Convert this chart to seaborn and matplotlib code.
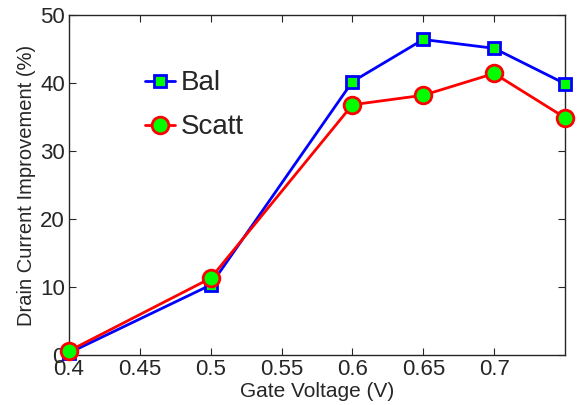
import numpy as np
import pandas as pd
import matplotlib
matplotlib.use("Agg")
import matplotlib.pyplot as plt
import seaborn as sns

gate_voltage = [0.4, 0.5, 0.6, 0.65, 0.7, 0.75]
bal = [0.3, 10.3, 40.2, 46.4, 45.1, 39.9]
scatt = [0.6, 11.3, 36.8, 38.2, 41.4, 34.9]
x_ticks = [0.4, 0.45, 0.5, 0.55, 0.6, 0.65, 0.7]
x_tick_labels = ["0.4", "0.45", "0.5", "0.55", "0.6", "0.65", "0.7"]
y_ticks = [0, 10, 20, 30, 40, 50]

sns.set_style("ticks")
plt.rcParams["font.family"] = ["Liberation Sans", "DejaVu Sans"]

fig = plt.figure(figsize=(5.81, 4.05), dpi=100)
ax = fig.add_axes([69 / 581, 50 / 405, 496 / 581, 340 / 405])

sns.lineplot(x=gate_voltage, y=bal, ax=ax, color="#0000ff", lw=2,
             marker="s", markersize=9, markerfacecolor="#00ff00",
             markeredgecolor="#0000ff", markeredgewidth=2, label="Bal",
             clip_on=False, zorder=3)
sns.lineplot(x=gate_voltage, y=scatt, ax=ax, color="#ff0000", lw=2,
             marker="o", markersize=12, markerfacecolor="#00ff00",
             markeredgecolor="#ff0000", markeredgewidth=2, label="Scatt",
             clip_on=False, zorder=4)

ax.set_xlim(0.4, 0.75)
ax.set_ylim(0, 50)
ax.set_xticks(x_ticks)
ax.set_xticklabels(x_tick_labels)
ax.set_yticks(y_ticks)
ax.tick_params(direction="in", top=True, right=True, labelsize=16,
               length=5, width=0.8, pad=3)
for s in ax.spines.values():
    s.set_linewidth(1)

ax.set_xlabel("Gate Voltage (V)", fontsize=15, labelpad=1)
ax.set_ylabel("Drain Current Improvement (%)", fontsize=14.5, labelpad=3)

leg = ax.legend(loc="upper left", bbox_to_anchor=(0.13, 0.87), frameon=False,
                fontsize=20, handlelength=1.1, handletextpad=0.2,
                labelspacing=0.65, borderaxespad=0)

fig.savefig("out.png", dpi=100)
